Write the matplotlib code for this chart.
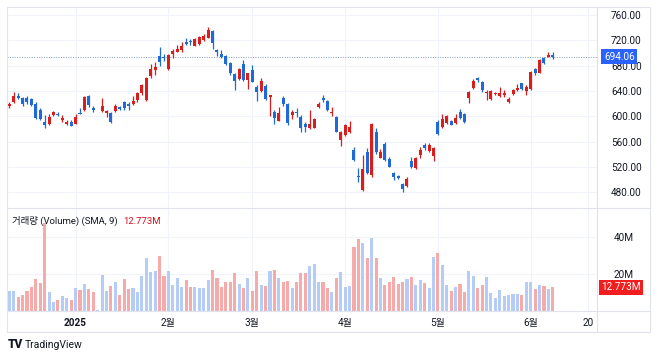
import numpy as np
import pandas as pd
import matplotlib
matplotlib.use('Agg')
import matplotlib.pyplot as plt
from matplotlib.lines import Line2D
from matplotlib.patches import Rectangle
from matplotlib.ticker import FuncFormatter

plt.rcParams['font.family'] = ['Roboto', 'Noto Sans CJK KR', 'DejaVu Sans']

# trading days (Jan 9 kept as a flat bar, as in the source chart)
holidays = ['2024-12-25', '2025-01-01', '2025-01-20', '2025-02-17',
            '2025-04-18', '2025-05-26', '2025-06-19']
dates = pd.bdate_range('2024-12-10', '2025-06-09', freq='C', holidays=holidays)
future = pd.bdate_range('2025-06-10', '2025-06-20', freq='C', holidays=holidays)

opens = [615.7, 622.0, 632.6, 628.3, 629.4, 627.3, 620.1, 609.9, 590.4, 587.3,
         602.0, 604.1, 593.6, 588.3, 591.5, 588.3, 606.0, 609.9, 632.0, 612.6,
         609.4, 608.3, 604.7, 604.7, 608.3, 614.1, 623.1, 618.9, 619.9, 625.7,
         636.2, 625.7, 663.6, 673.1, 695.8, 694.2, 674.7, 697.9, 702.1, 704.7,
         716.8, 718.9, 711.6, 713.7, 720.5, 724.2, 734.7, 704.2, 697.9, 695.2,
         684.7, 666.3, 658.9, 682.1, 657.3, 673.1, 646.8, 640.5, 647.8, 631.0,
         607.3, 593.1, 629.4, 618.9, 602.0, 606.2, 599.4, 587.3, 581.0, 582.0,
         615.2, 628.3, 624.1, 605.7, 599.4, 562.5, 570.4, 574.6, 546.7, 506.2,
         483.5, 544.1, 507.2, 575.7, 534.6, 556.2, 532.0, 509.9, 505.7, 493.0,
         489.8, 529.9, 517.8, 538.8, 554.6, 545.7, 537.2, 591.5, 582.5, 589.9,
         593.1, 588.9, 607.3, 603.6, 628.3, 644.1, 659.9, 654.7, 637.3, 626.8,
         635.2, 632.0, 633.6, 623.1, 634.7, 641.5, 652.0, 640.5, 642.6, 674.2,
         668.9, 691.5, 694.2, 697.3]
highs = [623.1, 638.9, 636.8, 631.0, 632.6, 629.4, 623.1, 612.6, 602.0, 603.1,
         608.3, 606.2, 602.0, 594.6, 593.6, 603.1, 612.6, 632.6, 633.6, 615.7,
         609.6, 629.4, 609.9, 606.2, 618.9, 616.2, 624.1, 622.0, 632.6, 637.8,
         651.5, 662.6, 682.1, 685.2, 708.9, 697.9, 697.9, 706.3, 712.6, 717.9,
         724.2, 722.1, 723.1, 727.3, 729.5, 741.0, 736.3, 706.3, 704.7, 696.8,
         686.3, 668.9, 676.8, 688.9, 668.9, 681.0, 649.4, 659.9, 650.5, 633.6,
         609.4, 615.2, 632.6, 620.5, 609.9, 612.6, 602.0, 590.4, 609.9, 596.8,
         622.0, 633.6, 625.7, 615.2, 601.0, 576.7, 588.3, 592.5, 552.0, 518.8,
         538.8, 549.4, 588.9, 581.0, 548.3, 559.0, 536.2, 512.5, 507.2, 494.1,
         503.5, 536.2, 535.1, 551.0, 558.3, 557.3, 550.9, 594.1, 603.6, 602.0,
         594.1, 603.6, 611.0, 605.7, 640.5, 658.4, 662.6, 656.3, 641.5, 641.5,
         638.9, 646.8, 641.5, 631.0, 642.6, 651.0, 653.1, 649.4, 672.1, 675.7,
         690.0, 694.2, 701.5, 702.1]
lows = [612.6, 620.5, 627.3, 616.8, 619.9, 615.7, 595.7, 594.1, 581.0, 586.2,
        599.9, 599.9, 590.4, 586.2, 584.1, 587.3, 603.1, 608.3, 615.2, 607.3,
        609.2, 606.2, 599.4, 589.9, 606.2, 609.9, 609.4, 609.4, 617.8, 623.1,
        633.6, 624.1, 661.0, 665.2, 679.9, 687.3, 673.1, 691.5, 701.0, 702.1,
        712.6, 712.6, 710.5, 712.6, 718.9, 723.1, 706.3, 695.8, 691.5, 681.0,
        665.2, 641.5, 657.3, 655.7, 642.6, 653.6, 624.1, 638.9, 625.2, 601.0,
        588.3, 592.0, 616.2, 586.2, 595.7, 599.4, 574.6, 574.6, 579.9, 581.0,
        612.6, 622.0, 608.3, 601.0, 574.6, 553.6, 569.4, 573.0, 529.3, 495.6,
        482.5, 508.8, 504.6, 539.9, 533.6, 529.0, 519.3, 499.3, 500.4, 480.9,
        487.7, 517.8, 516.2, 533.5, 546.7, 544.1, 529.9, 570.4, 581.0, 587.8,
        585.7, 587.8, 595.2, 589.9, 620.4, 642.6, 654.7, 638.9, 625.7, 625.7,
        633.6, 631.0, 631.0, 621.5, 633.6, 640.5, 641.5, 633.6, 641.5, 665.2,
        667.8, 682.6, 693.1, 691.0]
closes = [618.9, 632.6, 629.4, 618.9, 622.0, 617.8, 596.8, 595.7, 586.2, 599.4,
          606.2, 602.0, 596.8, 591.5, 585.2, 598.9, 604.4, 631.0, 617.8, 609.4,
          609.4, 616.8, 608.3, 591.5, 616.8, 612.0, 612.6, 615.7, 624.1, 636.2,
          649.4, 659.9, 674.2, 678.4, 685.2, 691.5, 696.8, 703.1, 706.3, 711.5,
          714.7, 716.8, 722.1, 725.8, 727.3, 735.8, 715.2, 702.1, 693.6, 682.1,
          667.8, 656.3, 674.2, 657.3, 667.8, 654.7, 638.9, 655.7, 627.3, 633.6,
          596.8, 605.7, 618.9, 588.9, 607.3, 604.7, 582.0, 583.6, 587.3, 595.7,
          619.4, 625.7, 609.4, 607.3, 575.7, 575.7, 586.2, 583.1, 530.9, 504.1,
          516.7, 509.9, 587.3, 544.1, 544.1, 530.9, 520.4, 503.5, 502.5, 484.6,
          500.4, 519.3, 533.5, 546.7, 549.4, 554.6, 549.4, 572.0, 595.2, 600.4,
          586.7, 596.8, 596.8, 591.5, 638.9, 656.3, 657.3, 641.5, 638.9, 640.5,
          637.3, 636.2, 636.2, 627.8, 641.5, 644.1, 643.6, 646.8, 670.5, 667.8,
          688.9, 683.6, 697.3, 694.06]
# volume in millions
volume = [10.9, 10.7, 7.6, 8.6, 10.9, 13.1, 17.3, 14.9, 47.6, 10.0,
          4.6, 5.8, 8.2, 6.7, 5.8, 12.6, 11.3, 14.4, 11.8, 10.0,
          0.3, 19.5, 10.7, 13.6, 15.5, 8.6, 17.3, 11.6, 12.2, 10.0,
          19.1, 28.5, 20.9, 21.6, 29.8, 19.1, 21.6, 14.0, 17.6, 13.1,
          16.7, 13.1, 13.1, 12.2, 12.6, 16.7, 22.0, 18.0, 13.1, 15.8,
          15.8, 20.4, 14.4, 12.6, 17.6, 10.7, 21.6, 14.0, 13.6, 21.6,
          22.2, 17.6, 15.8, 16.2, 12.2, 15.5, 20.4, 20.4, 24.5, 25.3,
          15.8, 15.5, 12.6, 10.4, 17.6, 21.3, 13.1, 13.6, 34.9, 38.9,
          36.7, 28.5, 39.4, 28.5, 17.6, 14.0, 15.5, 18.5, 14.4, 15.8,
          17.3, 18.5, 14.0, 16.7, 15.3, 12.2, 29.4, 31.3, 24.9, 14.0,
          10.7, 13.1, 14.4, 10.4, 21.6, 18.9, 12.6, 14.0, 18.5, 9.5,
          6.7, 11.3, 8.2, 8.6, 8.9, 8.9, 8.6, 15.8, 15.5, 11.6,
          14.0, 13.3, 11.8, 12.773]
price_ticks = [480, 520, 560, 600, 640, 680, 720, 760]
vol_ticks = [20, 40]
last_price = 694.06
vol_label = '12.773M'

UP, DOWN = '#D91E1E', '#1F6AD6'
VUP, VDOWN = '#B5CDF6', '#F7AAAA'
GRID = '#F0F3FA'
FRAME = '#E0E3EB'

o = np.array(opens); h = np.array(highs); l = np.array(lows); c = np.array(closes)
x = np.arange(len(dates))
up = c >= o
ccol = np.where(up, UP, DOWN)
vcol = np.where(up, VUP, VDOWN)

# month ticks
month_idx = [i for i in range(len(dates)) if i == 0 and False or (i > 0 and dates[i].month != dates[i - 1].month)]
month_lab = ['2025' if dates[i].month == 1 else f'{dates[i].month}월' for i in month_idx]
tick_pos = month_idx + [len(dates) + len(future) - 1]
tick_lab = month_lab + [str(future[-1].day)]

W, H = 658, 358
fig = plt.figure(figsize=(W / 100, H / 100), dpi=100)
fig.patch.set_facecolor('white')

def rect(x0, y0, x1, y1):
    return [x0 / W, 1 - y1 / H, (x1 - x0) / W, (y1 - y0) / H]

ax = fig.add_axes(rect(7, 8, 597, 208))
axv = fig.add_axes(rect(7, 208, 597, 311), sharex=ax)

for a in (ax, axv):
    for s in a.spines.values():
        s.set_visible(False)
    a.set_facecolor('white')
    a.yaxis.tick_right()
    a.tick_params(length=0, labelsize=7.2, colors='#131722')
    for p in tick_pos:
        a.axvline(p, color=GRID, lw=0.8, zorder=0)

# price pane
for t in price_ticks:
    ax.axhline(t, color=GRID, lw=0.8, zorder=0)
ax.vlines(x, l, h, colors=ccol, lw=0.9, zorder=2)
body = np.maximum(np.abs(c - o), 0.6)
ax.bar(x, body, bottom=np.minimum(o, c), width=0.68, color=ccol, zorder=3)
ax.axhline(last_price, color='#7f9cc4', lw=0.7, ls=(0, (1, 1.5)), zorder=1)
ax.set_ylim(455.2, 771.05)
ax.set_yticks(price_ticks)
ax.yaxis.set_major_formatter(FuncFormatter(lambda v, p: f'{v:.2f}'))
ax.tick_params(axis='y', pad=10)
ax.tick_params(axis='x', labelbottom=False)
ax.annotate(f'{last_price:.2f}', xy=(1.0, last_price), xycoords=('axes fraction', 'data'),
            xytext=(5, 0), textcoords='offset points', ha='left', va='center',
            fontsize=7.2, color='white',
            bbox=dict(boxstyle='square,pad=0.25', fc='#2962FF', ec='none'))

# volume pane
for t in vol_ticks:
    axv.axhline(t, color=GRID, lw=0.8, zorder=0)
axv.bar(x, volume, width=0.7, color=vcol, zorder=2)
axv.set_ylim(-0.16, 56)
axv.set_yticks(vol_ticks)
axv.yaxis.set_major_formatter(FuncFormatter(lambda v, p: f'{v:.0f}M'))
axv.tick_params(axis='y', pad=12)
axv.annotate(vol_label, xy=(1.0, volume[-1]), xycoords=('axes fraction', 'data'),
             xytext=(3, 0), textcoords='offset points', ha='left', va='center',
             fontsize=7.2, color='white',
             bbox=dict(boxstyle='square,pad=0.25', fc='#F01E1E', ec='none'))
t1 = axv.text(5 / 590, 0.87, '거래량 (Volume) (SMA, 9)', transform=axv.transAxes,
              fontsize=6.8, color='#131722', va='center', ha='left')
axv.annotate(vol_label, xy=(1, 0.5), xycoords=t1, xytext=(4, 0),
             textcoords='offset points', va='center', ha='left',
             fontsize=6.8, color='#D0121B')

axv.set_xlim(-0.52, 133.0)
axv.set_xticks(tick_pos)
axv.set_xticklabels(tick_lab)
axv.tick_params(axis='x', pad=5, labelsize=7.2)
axv.get_xticklabels()[0].set_fontweight('bold')

# widget frame
fig.add_artist(Rectangle((7 / W, 1 - 332 / H), 643 / W, 325 / H, transform=fig.transFigure,
                         fill=False, ec=FRAME, lw=0.8))
for (x0, y0, x1, y1) in [(597, 7, 597, 332), (7, 208, 650, 208), (7, 311, 650, 311)]:
    fig.add_artist(Line2D([x0 / W, x1 / W], [1 - y0 / H, 1 - y1 / H],
                          transform=fig.transFigure, color=FRAME, lw=0.8))

fig.text(8 / W, 1 - 345 / H, 'TV', fontsize=8.5, fontweight='black', color='#131722', va='center')
fig.text(25 / W, 1 - 345 / H, 'TradingView', fontsize=7.5, color='#131722', va='center')

fig.savefig('out.png', dpi=100)
